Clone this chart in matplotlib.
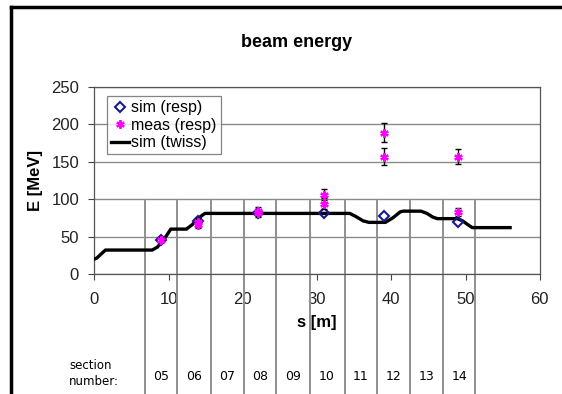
import matplotlib
matplotlib.use("Agg")
import matplotlib.pyplot as plt
import matplotlib.transforms as mtransforms
from matplotlib.lines import Line2D

# ---- data ----
twiss_s = [0, 0.3, 1.5, 7.8, 8.5, 9.5, 10.3, 12.4, 13.2, 14.2, 14.9, 34.4, 35.2, 36.2,
           37.0, 39.2, 40.2, 41.2, 41.6, 44.0, 44.8, 45.6, 46.2, 48.9, 49.6, 50.3, 50.9, 56.0]
twiss_E = [20, 21, 32, 32, 36, 48, 60, 60, 66, 76, 81, 81, 77, 71,
           69, 69, 75, 83, 84, 84, 81, 76, 74, 74, 71, 66, 62, 62]

sim_s = [9, 14, 22, 31, 39, 49]
sim_E = [46, 71, 82, 81, 78, 69]

meas_s = [9, 14, 14, 22, 22, 31, 31, 39, 39, 49, 49]
meas_E = [46, 70, 66, 84, 81, 106, 94, 189, 157, 157, 83]
meas_err = [3, 5, 5, 5, 5, 7, 7, 13, 11, 10, 5]

section_bounds = [6.83, 11.2, 15.7, 20.1, 24.5, 29.0, 33.7, 38.1, 42.5, 47.0, 51.3]
section_names = ["05", "06", "07", "08", "09", "10", "11", "12", "13", "14"]

x_ticks = [0, 10, 20, 30, 40, 50, 60]
y_ticks = [0, 50, 100, 150, 200, 250]

plt.rcParams['font.family'] = ['Liberation Sans', 'DejaVu Sans']

fig = plt.figure(figsize=(5.62, 3.94), dpi=100)
ax = fig.add_axes([0.1678, 0.3046, 0.7927, 0.4746])

ax.set_xlim(0, 60)
ax.set_ylim(0, 250)
ax.set_xticks(x_ticks)
ax.set_yticks(y_ticks)
ax.tick_params(axis='both', direction='out', length=4, width=0.8, color='#444444',
               labelsize=12, labelcolor='#222222')
ax.tick_params(axis='x', pad=9)
ax.tick_params(axis='y', pad=7)
for sp in ax.spines.values():
    sp.set_color('#555555')
    sp.set_linewidth(0.9)
ax.yaxis.grid(True, color='#8a8a8a', linewidth=1.0)
ax.set_axisbelow(True)

# section boundaries
ax.vlines(section_bounds, -175, 100, colors='#8f8f8f', linewidth=1.4, clip_on=False, zorder=1)

ax.plot(twiss_s, twiss_E, color='black', linewidth=2.4, zorder=3, label='sim (twiss)')
ax.plot(sim_s, sim_E, linestyle='none', marker='D', markersize=5.5, markerfacecolor='none',
        markeredgecolor='#1a1a8c', markeredgewidth=1.5, zorder=4, label='sim (resp)')
ax.errorbar(meas_s, meas_E, yerr=meas_err, fmt='none', ecolor='black', elinewidth=1.0,
            capsize=2.5, capthick=1.0, zorder=5)
ax.plot(meas_s, meas_E, linestyle='none', marker=(6, 2, 0), markersize=6,
        markeredgecolor='#ff00ff', markeredgewidth=1.6, zorder=6, label='meas (resp)')

h, l = ax.get_legend_handles_labels()
order = [1, 2, 0]
leg = ax.legend([h[i] for i in order], [l[i] for i in order], loc='upper left',
                bbox_to_anchor=(0.029, 0.95), fontsize=11.5, frameon=True, fancybox=False,
                handlelength=1.1, handletextpad=0.15, labelspacing=0.15, borderpad=0.25,
                borderaxespad=0.0)
leg.get_frame().set_edgecolor('#666666')
leg.get_frame().set_linewidth(0.9)

ax.set_xlabel('s [m]', fontsize=12, fontweight='bold', labelpad=6)
ax.set_ylabel('E [MeV]', fontsize=12, fontweight='bold')
ax.yaxis.set_label_coords(-0.115, 0.5)

fig.text(0.527, 0.892, 'beam energy', ha='center', va='center', fontsize=13,
         fontweight='bold')

# section numbers
trans = mtransforms.blended_transform_factory(ax.transData, fig.transFigure)
for i, name in enumerate(section_names):
    xc = 0.5 * (section_bounds[i] + section_bounds[i + 1])
    ax.text(xc, 0.044, name, transform=trans, ha='center', va='center', fontsize=9,
            family='DejaVu Sans', clip_on=False)
fig.text(0.1228, 0.051, 'section\nnumber:', ha='left', va='center', fontsize=8.5,
         family='DejaVu Sans', linespacing=1.3)

# outer border
fig.add_artist(Line2D([0.02, 1.0], [0.982, 0.982], transform=fig.transFigure,
                      color='black', linewidth=2.5))
fig.add_artist(Line2D([0.02, 0.02], [0.0, 0.982], transform=fig.transFigure,
                      color='black', linewidth=2.5))

fig.savefig('out.png', dpi=100)
